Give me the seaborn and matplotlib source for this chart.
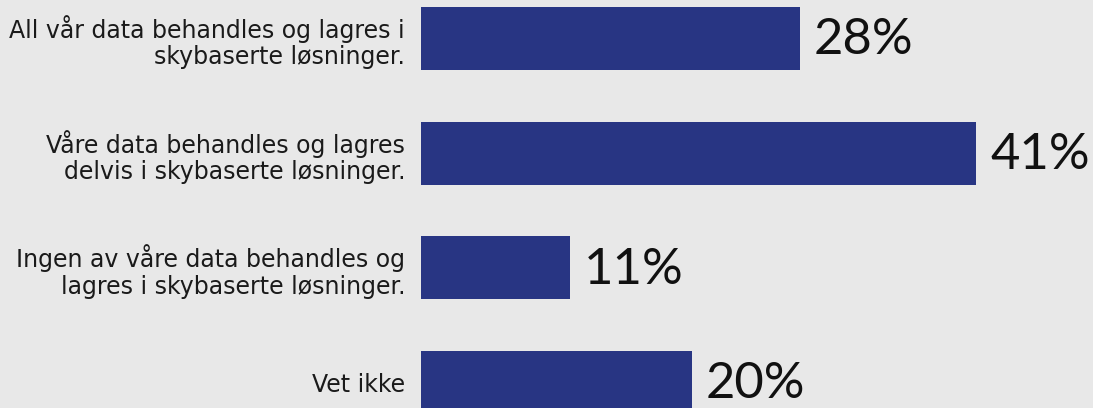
import matplotlib
matplotlib.use("Agg")
import matplotlib.pyplot as plt
import seaborn as sns
import pandas as pd

categories = [
    "All vår data behandles og lagres i\nskybaserte løsninger.",
    "Våre data behandles og lagres\ndelvis i skybaserte løsninger.",
    "Ingen av våre data behandles og\nlagres i skybaserte løsninger.",
    "Vet ikke",
]
values = [28, 41, 11, 20]

BG = "#e8e8e8"
BAR = "#283583"

sns.set_theme(style="white")
plt.rcParams["font.family"] = ["DejaVu Sans"]

df = pd.DataFrame({"kategori": categories, "andel": values})

fig = plt.figure(figsize=(10.93, 4.08), dpi=100, facecolor=BG)
ax = fig.add_axes([421 / 1093, 0.0, 1 - 421 / 1093, 1.0])
ax.set_facecolor(BG)

sns.barplot(data=df, x="andel", y="kategori", color=BAR, width=0.55,
            saturation=1, linewidth=0, ax=ax)

ax.set_xlim(0, 49.6)
ax.set_ylim(3.222, -0.336)

for i, v in enumerate(values):
    ax.text(v + 1.0, i + 0.015, f"{v}%", va="center", ha="left",
            fontsize=36.5, color="#111111", family=["Lato", "DejaVu Sans"])

ax.set_xlabel("")
ax.set_ylabel("")
ax.set_xticks([])
ax.tick_params(axis="y", length=0, pad=11.5)
for lbl in ax.get_yticklabels():
    lbl.set_fontsize(17)
    lbl.set_color("#1a1a1a")
    lbl.set_linespacing(1.12)
    lbl.set_horizontalalignment("right")
    lbl.set_multialignment("right")
for s in ax.spines.values():
    s.set_visible(False)

fig.savefig("out.png", dpi=100, facecolor=BG)
